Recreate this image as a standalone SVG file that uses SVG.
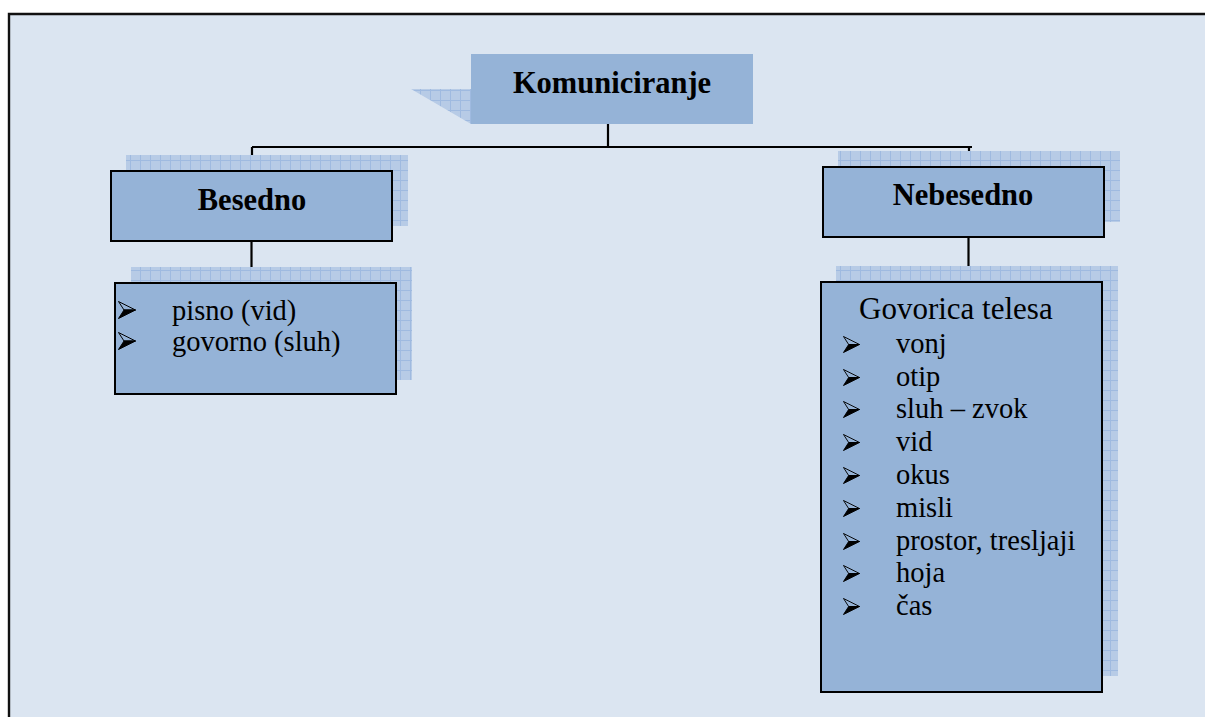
<svg xmlns="http://www.w3.org/2000/svg" width="1205" height="717" viewBox="0 0 1205 717">
  <defs>
    <!-- small-grid hatch used for the offset box shadows -->
    <pattern id="grid" x="0" y="0" width="10" height="10" patternUnits="userSpaceOnUse">
      <rect width="10" height="10" fill="#b7cbe6"/>
      <path d="M0 0.5H10M0.5 0V10" stroke="#9fbae0" stroke-width="1"/>
    </pattern>
    <!-- list bullet: 3D arrowhead, upper half outlined, lower half solid -->
    <symbol id="bullet" viewBox="0 0 18 18" overflow="visible">
      <polygon points="0.5,0.5 17.5,9 6,9" fill="none" stroke="#000" stroke-width="1"/>
      <polygon points="0.5,17.5 17.5,9 6,9" fill="#000" stroke="#000" stroke-width="1"/>
    </symbol>
    <style>
      .box { fill: #95b3d7; stroke: #000; stroke-width: 2; }
      .top { fill: #95b3d7; }
      .shadow { fill: url(#grid); }
      .head { font-family: "Liberation Serif", "Times New Roman", serif; font-weight: bold; font-size: 30.5px; fill: #000; text-anchor: middle; }
      .item { font-family: "Liberation Serif", "Times New Roman", serif; font-size: 28.5px; fill: #000; }
      .conn { stroke: #000; stroke-width: 2.2; fill: none; }
    </style>
  </defs>

  <!-- page background; the frame runs off the right and bottom edges -->
  <rect x="0" y="0" width="1205" height="717" fill="#ffffff"/>
  <rect x="9" y="14" width="1196" height="703" fill="#dbe5f1"/>
  <path d="M9 717V14H1205" fill="none" stroke="#111" stroke-width="2.4"/>

  <!-- connectors -->
  <g id="connectors">
    <path class="conn" d="M608 124V147M252 147H972M252 147V171M969 147V167"/>
    <path class="conn" d="M251.5 241V283"/>
    <path class="conn" d="M968.5 237V282"/>
  </g>

  <g id="node-komuniciranje">
    <polygon class="shadow" points="411,89 471,89 471,124"/>
    <rect class="top" x="471" y="54" width="282" height="70"/>
    <text class="head" x="612" y="93">Komuniciranje</text>
  </g>

  <g id="node-besedno">
    <rect class="shadow" x="126" y="155" width="282" height="71"/>
    <rect class="box" x="111" y="171" width="281" height="70"/>
    <text class="head" x="252" y="210">Besedno</text>
  </g>

  <g id="node-besedno-list">
    <rect class="shadow" x="131" y="267" width="281" height="113"/>
    <rect class="box" x="115" y="283" width="281" height="111"/>
    <use href="#bullet" x="118" y="301" width="18" height="18"/>
    <text class="item" x="172" y="320">pisno (vid)</text>
    <use href="#bullet" x="118" y="332" width="18" height="18"/>
    <text class="item" x="172" y="351">govorno (sluh)</text>
  </g>

  <g id="node-nebesedno">
    <rect class="shadow" x="838" y="151" width="282" height="71"/>
    <rect class="box" x="823" y="167" width="281" height="70"/>
    <text class="head" x="963" y="205">Nebesedno</text>
  </g>

  <g id="node-govorica">
    <rect class="shadow" x="836" y="266" width="282" height="410"/>
    <rect class="box" x="821" y="282" width="281" height="410"/>
    <text class="item" x="859" y="319" style="font-size:31px">Govorica telesa</text>
    <use href="#bullet" x="843" y="336" width="17" height="17"/>
    <use href="#bullet" x="843" y="369" width="17" height="17"/>
    <use href="#bullet" x="843" y="401" width="17" height="17"/>
    <use href="#bullet" x="843" y="434" width="17" height="17"/>
    <use href="#bullet" x="843" y="467" width="17" height="17"/>
    <use href="#bullet" x="843" y="500" width="17" height="17"/>
    <use href="#bullet" x="843" y="533" width="17" height="17"/>
    <use href="#bullet" x="843" y="565" width="17" height="17"/>
    <use href="#bullet" x="843" y="598" width="17" height="17"/>
    <text class="item" x="896" y="353">vonj</text>
    <text class="item" x="896" y="386">otip</text>
    <text class="item" x="896" y="418">sluh – zvok</text>
    <text class="item" x="896" y="451">vid</text>
    <text class="item" x="896" y="484">okus</text>
    <text class="item" x="896" y="517">misli</text>
    <text class="item" x="896" y="550">prostor, tresljaji</text>
    <text class="item" x="896" y="582">hoja</text>
    <text class="item" x="896" y="615">čas</text>
  </g>
</svg>
